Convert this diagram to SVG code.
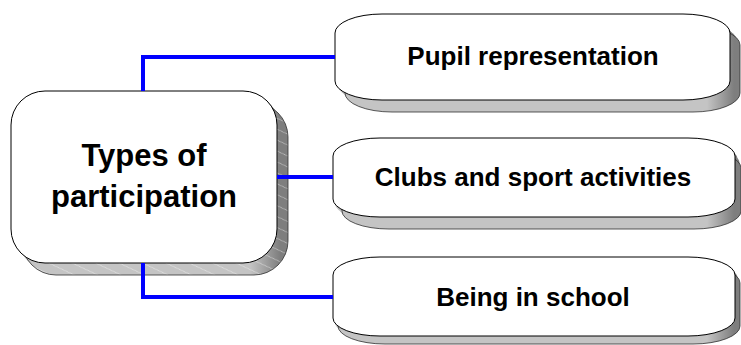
<svg xmlns="http://www.w3.org/2000/svg" width="741" height="345" viewBox="0 0 741 345">
  <style>
    .face { fill: #ffffff; stroke: #000000; stroke-width: 1; }
    .depth { stroke: none; }
    .rim { fill: none; stroke: #303030; stroke-width: 0.8; }
    .hatch { stroke: none; }
    .wire { fill: none; stroke: #0000ff; stroke-width: 4; stroke-linejoin: miter; stroke-linecap: butt; }
    .label { font-family: "Liberation Sans", Arial, sans-serif; font-weight: bold; fill: #000000; text-anchor: middle; }
    .big { font-size: 31px; }
    .small { font-size: 26px; }
  </style>
  <defs>
    <!-- faint diagonal streaks across the extruded sides -->
    <pattern id="streaks" patternUnits="userSpaceOnUse" width="14" height="14" patternTransform="rotate(-20)">
      <path d="M-1,-1 L15,15" stroke="#ffffff" stroke-opacity="0.55" stroke-width="0.8"/>
    </pattern>
    <!-- side shading: light underside, darker right-hand side -->
    <linearGradient id="sideMain" gradientUnits="userSpaceOnUse" x1="250" y1="0" x2="280" y2="0">
      <stop offset="0" stop-color="#c4c4c4"/>
      <stop offset="1" stop-color="#7e7e7e"/>
    </linearGradient>
    <linearGradient id="sideBranch" gradientUnits="userSpaceOnUse" x1="707" y1="0" x2="734" y2="0">
      <stop offset="0" stop-color="#c4c4c4"/>
      <stop offset="1" stop-color="#7e7e7e"/>
    </linearGradient>
  </defs>

  <!-- central node -->
  <g id="types-of-participation">
    <rect class="depth" x="14" y="94" width="266" height="172" rx="34" ry="34" fill="url(#sideMain)"/>
    <rect class="depth" x="18" y="99" width="266" height="172" rx="34" ry="34" fill="url(#sideMain)"/>
    <rect class="depth" x="22" y="103" width="266" height="172" rx="34" ry="34" fill="url(#sideMain)"/>
    <rect class="hatch" x="14" y="94" width="274" height="181" fill="url(#streaks)"/>
    <rect class="rim" x="22" y="103" width="266" height="172" rx="34" ry="34"/>
    <rect class="face" x="11" y="91" width="266" height="172" rx="34" ry="34"/>
    <text class="label big" x="144" y="166">Types of</text>
    <text class="label big" x="144" y="207">participation</text>
  </g>

  <!-- branch nodes -->
  <g id="pupil-representation">
    <rect class="depth" x="338" y="18" width="395" height="86" rx="47" ry="19" fill="url(#sideBranch)"/>
    <rect class="depth" x="342" y="22" width="395" height="86" rx="47" ry="19" fill="url(#sideBranch)"/>
    <rect class="depth" x="345" y="26" width="395" height="86" rx="47" ry="19" fill="url(#sideBranch)"/>
    <rect class="rim" x="345" y="26" width="395" height="86" rx="47" ry="19"/>
    <rect class="face" x="335" y="14" width="395" height="86" rx="47" ry="19"/>
    <text class="label small" x="533" y="65">Pupil representation</text>
  </g>

  <g id="clubs-and-sport-activities">
    <rect class="depth" x="335" y="142" width="403" height="79" rx="47" ry="18" fill="url(#sideBranch)"/>
    <rect class="depth" x="339" y="146" width="401" height="79" rx="47" ry="18" fill="url(#sideBranch)"/>
    <rect class="depth" x="342" y="150" width="399" height="79" rx="47" ry="18" fill="url(#sideBranch)"/>
    <rect class="rim" x="342" y="150" width="399" height="79" rx="47" ry="18"/>
    <rect class="face" x="333" y="138" width="402" height="79" rx="47" ry="18"/>
    <text class="label small" x="533" y="186">Clubs and sport activities</text>
  </g>

  <g id="being-in-school">
    <rect class="depth" x="335" y="261" width="403" height="79" rx="47" ry="18" fill="url(#sideBranch)"/>
    <rect class="depth" x="338" y="265" width="402" height="79" rx="47" ry="18" fill="url(#sideBranch)"/>
    <rect class="rim" x="338" y="265" width="402" height="79" rx="47" ry="18"/>
    <rect class="face" x="333" y="257" width="402" height="79" rx="47" ry="18"/>
    <text class="label small" x="533" y="306">Being in school</text>
  </g>

  <!-- connectors -->
  <g id="connectors">
    <path class="wire" d="M143,91 V57 H335"/>
    <path class="wire" d="M277,177 H333"/>
    <path class="wire" d="M143,263 V297 H333"/>
  </g>
</svg>
